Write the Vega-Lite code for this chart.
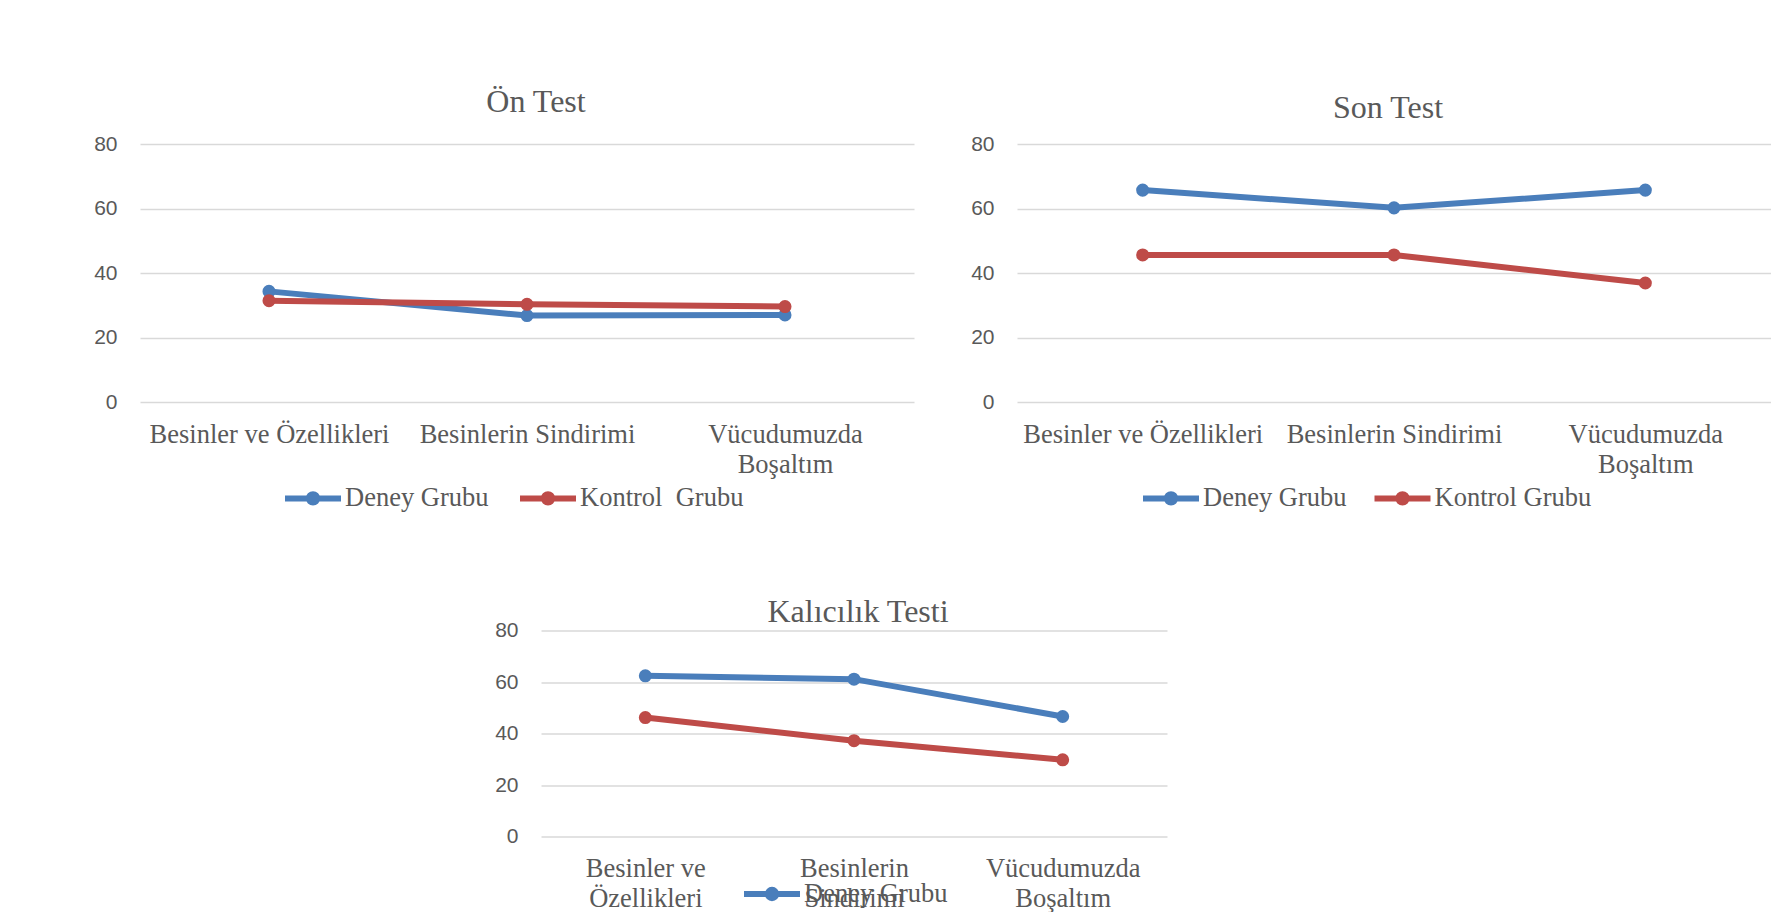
{
  "$schema": "https://vega.github.io/schema/vega-lite/v6.json",
  "background": "white",
  "padding": {"left": 93, "top": 86, "right": 0, "bottom": 0},
  "config": {
    "view": {"stroke": null},
    "font": "Liberation Serif",
    "title": {"font": "Liberation Serif", "fontSize": 32, "fontWeight": "normal", "color": "#595959", "baseline": "alphabetic", "anchor": "middle"},
    "axisX": {"domain": false, "ticks": false, "tickSize": 0, "grid": false, "labelFont": "Liberation Serif", "labelFontSize": 26.5, "labelColor": "#595959", "labelAngle": 0, "labelPadding": 19, "labelLineHeight": 30, "labelLimit": 0, "title": null},
    "axisY": {"domain": false, "ticks": false, "tickSize": 0, "grid": true, "gridColor": "#d9d9d9", "gridWidth": 1.5, "labelFont": "Liberation Sans", "labelFontSize": 21, "labelColor": "#595959", "labelPadding": 23, "title": null},
    "legend": {
      "orient": "none", "direction": "horizontal", "title": null, "padding": 0,
      "labelFont": "Liberation Serif", "labelFontSize": 26.5, "labelColor": "#595959", "labelOffset": 1, "labelLimit": 0,
      "columnPadding": 18,
      "symbolType": "M-1,0H1M0.15,0A0.15,0.15 0 1,1 -0.15,0A0.15,0.15 0 1,1 0.15,0Z",
      "symbolSize": 3136, "symbolStrokeWidth": 6
    }
  },
  "data": {
    "values": [
      {"test": "Ön Test", "grup": "Deney Grubu", "konu": "Besinler ve Özellikleri", "puan": 34.3},
      {"test": "Ön Test", "grup": "Deney Grubu", "konu": "Besinlerin Sindirimi", "puan": 26.8},
      {"test": "Ön Test", "grup": "Deney Grubu", "konu": "Vücudumuzda Boşaltım", "puan": 27.0},
      {"test": "Ön Test", "grup": "Kontrol Grubu", "konu": "Besinler ve Özellikleri", "puan": 31.4},
      {"test": "Ön Test", "grup": "Kontrol Grubu", "konu": "Besinlerin Sindirimi", "puan": 30.3},
      {"test": "Ön Test", "grup": "Kontrol Grubu", "konu": "Vücudumuzda Boşaltım", "puan": 29.6},
      {"test": "Son Test", "grup": "Deney Grubu", "konu": "Besinler ve Özellikleri", "puan": 65.7},
      {"test": "Son Test", "grup": "Deney Grubu", "konu": "Besinlerin Sindirimi", "puan": 60.2},
      {"test": "Son Test", "grup": "Deney Grubu", "konu": "Vücudumuzda Boşaltım", "puan": 65.7},
      {"test": "Son Test", "grup": "Kontrol Grubu", "konu": "Besinler ve Özellikleri", "puan": 45.6},
      {"test": "Son Test", "grup": "Kontrol Grubu", "konu": "Besinlerin Sindirimi", "puan": 45.6},
      {"test": "Son Test", "grup": "Kontrol Grubu", "konu": "Vücudumuzda Boşaltım", "puan": 36.9},
      {"test": "Kalıcılık Testi", "grup": "Deney Grubu", "konu": "Besinler ve Özellikleri", "puan": 62.4},
      {"test": "Kalıcılık Testi", "grup": "Deney Grubu", "konu": "Besinlerin Sindirimi", "puan": 61.1},
      {"test": "Kalıcılık Testi", "grup": "Deney Grubu", "konu": "Vücudumuzda Boşaltım", "puan": 46.6},
      {"test": "Kalıcılık Testi", "grup": "Kontrol Grubu", "konu": "Besinler ve Özellikleri", "puan": 46.2},
      {"test": "Kalıcılık Testi", "grup": "Kontrol Grubu", "konu": "Besinlerin Sindirimi", "puan": 37.2},
      {"test": "Kalıcılık Testi", "grup": "Kontrol Grubu", "konu": "Vücudumuzda Boşaltım", "puan": 29.8}
    ]
  },
  "bounds": "flush",
  "spacing": 486.5,
  "vconcat": [
    {
      "bounds": "flush",
      "spacing": 103,
      "hconcat": [
        {
          "width": 774, "height": 258,
          "title": {"text": "Ön Test", "offset": 13.7, "dx": 9},
          "transform": [{"filter": "datum.test == 'Ön Test'"}],
          "encoding": {
            "x": {"field": "konu", "type": "nominal", "sort": ["Besinler ve Özellikleri", "Besinlerin Sindirimi", "Vücudumuzda Boşaltım"], "scale": {"type": "point", "padding": 0.5},
                  "axis": {"labelExpr": "datum.label == 'Vücudumuzda Boşaltım' ? ['Vücudumuzda', 'Boşaltım'] : datum.label"}},
            "y": {"field": "puan", "type": "quantitative", "scale": {"domain": [0, 80]}, "axis": {"values": [0, 20, 40, 60, 80]}},
            "color": {"field": "grup", "type": "nominal",
                      "scale": {"domain": ["Deney Grubu", "Kontrol Grubu"], "range": ["#4a7ebb", "#be4b48"]},
                      "legend": {"legendX": 142, "legendY": 323, "columnPadding": 19, "labelExpr": "datum.label == 'Kontrol Grubu' ? 'Kontrol\u00a0 Grubu' : datum.label"}}
          },
          "layer": [
            {"mark": {"type": "line", "strokeWidth": 6}},
            {"mark": {"type": "point", "filled": true, "size": 170, "opacity": 1}}
          ]
        },
        {
          "width": 754, "height": 258,
          "title": {"text": "Son Test", "offset": 8.4, "dx": -6},
          "transform": [{"filter": "datum.test == 'Son Test'"}],
          "encoding": {
            "x": {"field": "konu", "type": "nominal", "sort": ["Besinler ve Özellikleri", "Besinlerin Sindirimi", "Vücudumuzda Boşaltım"], "scale": {"type": "point", "padding": 0.5},
                  "axis": {"labelExpr": "datum.label == 'Vücudumuzda Boşaltım' ? ['Vücudumuzda', 'Boşaltım'] : datum.label"}},
            "y": {"field": "puan", "type": "quantitative", "scale": {"domain": [0, 80]}, "axis": {"values": [0, 20, 40, 60, 80]}},
            "color": {"field": "grup", "type": "nominal",
                      "scale": {"domain": ["Deney Grubu", "Kontrol Grubu"], "range": ["#4a7ebb", "#be4b48"]},
                      "legend": {"legendX": 123, "legendY": 323, "columnPadding": 15.5}}
          },
          "layer": [
            {"mark": {"type": "line", "strokeWidth": 6}},
            {"mark": {"type": "point", "filled": true, "size": 170, "opacity": 1}}
          ]
        }
      ],
      "resolve": {"scale": {"color": "independent"}, "legend": {"color": "independent"}}
    },
    {
      "bounds": "flush",
      "spacing": 400,
      "hconcat": [
        {
          "width": 1, "height": 206,
          "data": {"values": []},
          "mark": "point"
        },
        {
          "width": 626, "height": 206,
          "title": {"text": "Kalıcılık Testi", "offset": -9.8, "dx": 4},
          "transform": [{"filter": "datum.test == 'Kalıcılık Testi'"}],
          "encoding": {
            "x": {"field": "konu", "type": "nominal", "sort": ["Besinler ve Özellikleri", "Besinlerin Sindirimi", "Vücudumuzda Boşaltım"], "scale": {"type": "point", "padding": 0.5},
                  "axis": {"labelExpr": "datum.label == 'Besinler ve Özellikleri' ? ['Besinler ve', 'Özellikleri'] : split(datum.label, ' ')"}},
            "y": {"field": "puan", "type": "quantitative", "scale": {"domain": [0, 80]}, "axis": {"values": [0, 20, 40, 60, 80]}},
            "color": {"field": "grup", "type": "nominal",
                      "scale": {"domain": ["Deney Grubu", "Kontrol Grubu"], "range": ["#4a7ebb", "#be4b48"]},
                      "legend": {"legendX": 200, "legendY": 232.5, "values": ["Deney Grubu"]}}
          },
          "layer": [
            {"mark": {"type": "line", "strokeWidth": 6}},
            {"mark": {"type": "point", "filled": true, "size": 170, "opacity": 1}}
          ]
        }
      ],
      "resolve": {"scale": {"color": "independent"}, "legend": {"color": "independent"}}
    }
  ],
  "resolve": {"scale": {"color": "independent"}, "legend": {"color": "independent"}}
}
